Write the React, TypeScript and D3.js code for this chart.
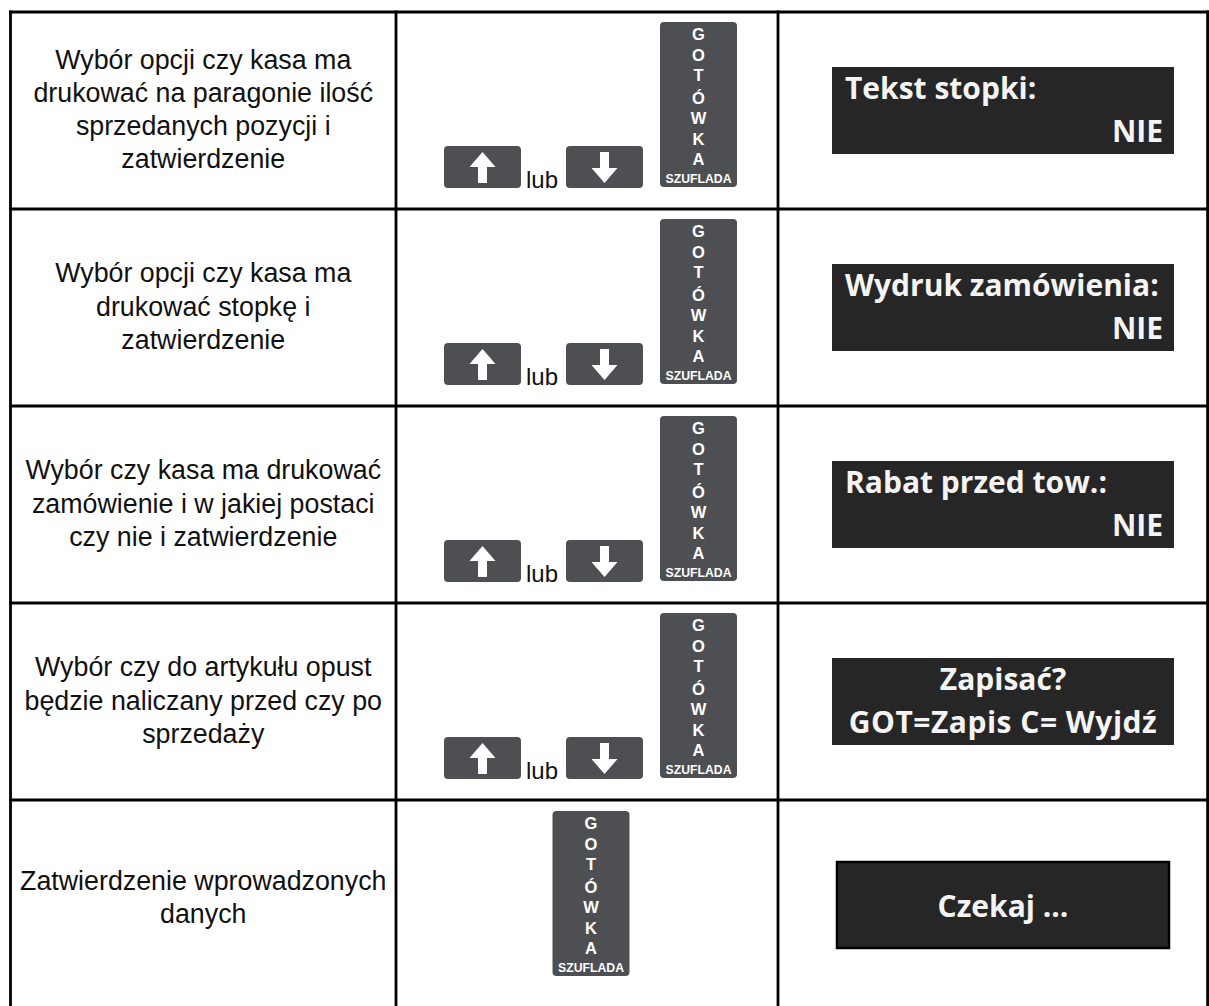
import React from "react";
import * as d3 from "d3";

// table content
const rowDescriptions: string[][] = [
  ["Wybór opcji czy kasa ma", "drukować na paragonie ilość", "sprzedanych pozycji i", "zatwierdzenie"],
  ["Wybór opcji czy kasa ma", "drukować stopkę i", "zatwierdzenie"],
  ["Wybór czy kasa ma drukować", "zamówienie i w jakiej postaci", "czy nie i zatwierdzenie"],
  ["Wybór czy do artykułu opust", "będzie naliczany przed czy po", "sprzedaży"],
  ["Zatwierdzenie wprowadzonych", "danych"],
];
const displayTitles = ["Tekst stopki:", "Wydruk zamówienia:", "Rabat przed tow.:", "Zapisać?", "Czekaj ..."];
const displayValues = ["NIE", "NIE", "NIE", "GOT=Zapis C= Wyjdź", ""];
const displayModes = ["split", "split", "split", "center", "wait"];
const rowKeys = [
  ["up", "down", "got"],
  ["up", "down", "got"],
  ["up", "down", "got"],
  ["up", "down", "got"],
  ["got"],
];
const keyLetters = ["G", "O", "T", "Ó", "W", "K", "A"];
const keyCaption = "SZUFLADA";
const joinWord = "lub";

const W = 1209, H = 1006;
const KEY = "#4e4f53";
const LCD = "#262626";
const SANS = "'Liberation Sans', Arimo, Arial, Helvetica, sans-serif";
const LCD_FONT = "'Open Sans', sans-serif";

const rowY = d3.scaleLinear().domain([0, 1]).range([12, 209]);
const colX = d3.scaleOrdinal<number, number>().domain([0, 1, 2, 3]).range([10.5, 396, 778, 1207.6]);
const lineY = d3.scaleLinear().domain([0, 1]).range([0, 33.3]);
const letterY = d3.scaleLinear().domain([0, 1]).range([18, 38.5]);

function arrowPath(cx: number, top: number, up: boolean) {
  const p = d3.path();
  const s = up ? 1 : -1;
  const tip = up ? top + 6 : top + 37;
  const base = tip + s * 15;
  const end = tip + s * 31;
  p.moveTo(cx, tip);
  p.lineTo(cx + 13, base);
  p.lineTo(cx + 4.5, base);
  p.lineTo(cx + 4.5, end);
  p.lineTo(cx - 4.5, end);
  p.lineTo(cx - 4.5, base);
  p.lineTo(cx - 13, base);
  p.closePath();
  return p.toString();
}

function GotKey({ x, y }: { x: number; y: number }) {
  const w = 77, h = 165;
  return (
    <g>
      <rect x={x} y={y} width={w} height={h} rx={4} fill={KEY} />
      {keyLetters.map((l, i) => (
        <text key={i} x={x + w / 2} y={y + letterY(i) + (i >= 3 ? 2 : 0)} textAnchor="middle"
          style={{ fontFamily: SANS }} fontWeight={700} fontSize={16.5} fill="#fff">{l}</text>
      ))}
      <text x={x + w / 2} y={y + 161} textAnchor="middle" style={{ fontFamily: SANS }}
        fontWeight={700} fontSize={13.5} fill="#fff" textLength={66} lengthAdjust="spacingAndGlyphs">{keyCaption}</text>
    </g>
  );
}

function ArrowKey({ x, y, up }: { x: number; y: number; up: boolean }) {
  return (
    <g>
      <rect x={x} y={y} width={77} height={42} rx={4} fill={KEY} />
      <path d={arrowPath(x + 38.5, y, up)} fill="#fff" />
    </g>
  );
}

export default function App() {
  const n = rowDescriptions.length;
  return (
    <svg width={W} height={H} style={{ position: "absolute", left: 0, top: 0, background: "#fff" }}>
      <rect width={W} height={H} fill="#fff" />
      {rowDescriptions.map((lines, r) => {
        const top = rowY(r);
        const cy = top + (rowY(1) - rowY(0)) / 2;
        const x0 = colX(0), x1 = colX(1), x2 = colX(2);
        const cx0 = (x0 + x1) / 2;
        const first = cy - lineY((lines.length - 1) / 2) + 8;
        const keys = rowKeys[r];
        const mode = displayModes[r];
        const boxX = mode === "wait" ? 837 : 832;
        const boxW = mode === "wait" ? 332 : 342;
        const boxY = mode === "wait" ? top + 62 : top + 55;
        const boxH = mode === "wait" ? 86 : 87;
        return (
          <g key={r}>
            {lines.map((t, i) => (
              <text key={i} x={cx0} y={first + lineY(i)} textAnchor="middle"
                style={{ fontFamily: SANS }} fontSize={26.8} fill="#111">{t}</text>
            ))}
            {keys.includes("up") ? (
              <g>
                <ArrowKey x={444} y={top + 134} up={true} />
                <text x={526} y={top + 176} style={{ fontFamily: SANS }} fontSize={24} fill="#111">{joinWord}</text>
                <ArrowKey x={566} y={top + 134} up={false} />
                <GotKey x={660} y={top + 10} />
              </g>
            ) : (
              <GotKey x={(x1 + x2) / 2 - 38.5 + 4} y={top + 11} />
            )}
            <rect x={boxX} y={boxY} width={boxW} height={boxH} fill={LCD}
              stroke={mode === "wait" ? "#000" : "none"} strokeWidth={2.5} />
            {mode === "split" && (
              <g style={{ fontFamily: LCD_FONT }} fontWeight={700} fontSize={30} fill="#f4f4f4">
                <text x={boxX + 13} y={boxY + 32}>{displayTitles[r]}</text>
                <text x={boxX + boxW - 11} y={boxY + 75} textAnchor="end">{displayValues[r]}</text>
              </g>
            )}
            {mode === "center" && (
              <g style={{ fontFamily: LCD_FONT }} fontWeight={700} fontSize={30} fill="#f4f4f4" textAnchor="middle">
                <text x={boxX + boxW / 2} y={boxY + 32}>{displayTitles[r]}</text>
                <text x={boxX + boxW / 2} y={boxY + 75} letterSpacing={0.5}>{displayValues[r]}</text>
              </g>
            )}
            {mode === "wait" && (
              <text x={boxX + boxW / 2} y={boxY + 55} textAnchor="middle" style={{ fontFamily: LCD_FONT }}
                fontWeight={700} fontSize={30} fill="#f4f4f4">{displayTitles[r]}</text>
            )}
          </g>
        );
      })}
      {/* grid */}
      <g stroke="#000" strokeWidth={2.8}>
        {d3.range(n).map((r) => (
          <line key={"h" + r} x1={colX(0) - 1.4} x2={W} y1={rowY(r)} y2={rowY(r)} />
        ))}
        {[0, 1, 2, 3].map((c) => (
          <line key={"v" + c} x1={colX(c)} x2={colX(c)} y1={rowY(0) - 1.4} y2={H} />
        ))}
      </g>
    </svg>
  );
}
